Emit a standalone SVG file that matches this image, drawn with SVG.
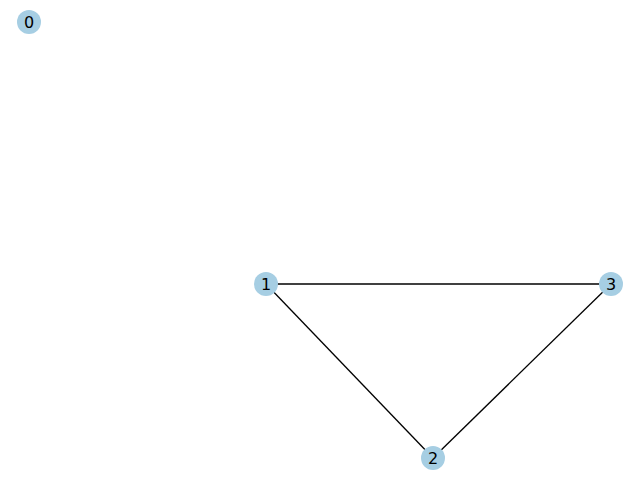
<svg xmlns="http://www.w3.org/2000/svg" width="640" height="480" viewBox="0 0 640 480">
<style>
.node circle{fill:#a6cee3;stroke:none}
.node text{font-family:"DejaVu Sans",sans-serif;font-size:16px;fill:#000;text-anchor:middle;dominant-baseline:central}
.edges line{stroke:#000;stroke-width:1.3}
</style>
<rect width="640" height="480" fill="#fff"/>
<g class="edges">
<line x1="266" y1="284" x2="611" y2="284"/>
<line x1="266" y1="284" x2="433" y2="458"/>
<line x1="611" y1="284" x2="433" y2="458"/>
</g>
<g id="n0" class="node"><circle cx="29" cy="22" r="12"/><text x="29" y="22">0</text></g>
<g id="n1" class="node"><circle cx="266" cy="284" r="12"/><text x="266" y="284">1</text></g>
<g id="n2" class="node"><circle cx="433" cy="458" r="12"/><text x="433" y="458">2</text></g>
<g id="n3" class="node"><circle cx="611" cy="284" r="12"/><text x="611" y="284">3</text></g>
</svg>
